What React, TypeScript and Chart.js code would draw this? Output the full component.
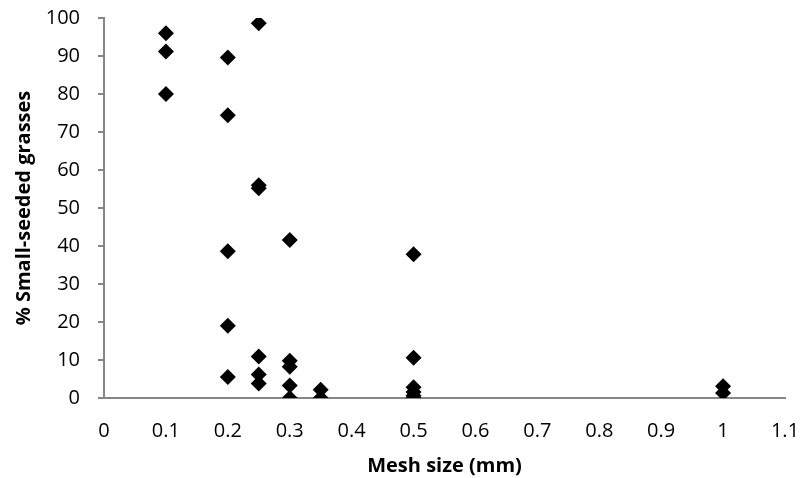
import React, { useEffect, useRef } from "react";
import { Chart, registerables } from "chart.js";

Chart.register(...registerables);

const meshSize = [
  0.1, 0.1, 0.1,
  0.2, 0.2, 0.2, 0.2, 0.2,
  0.25, 0.25, 0.25, 0.25, 0.25, 0.25,
  0.3, 0.3, 0.3, 0.3, 0.3,
  0.35, 0.35,
  0.5, 0.5, 0.5, 0.5, 0.5, 0.5,
  1.0, 1.0,
];
const smallSeeded = [
  96, 91.2, 80,
  89.6, 74.4, 38.6, 19, 5.5,
  98.6, 56, 55.2, 10.9, 6.2, 3.8,
  41.6, 9.8, 8.2, 3.3, 0,
  2.2, 0,
  37.8, 10.6, 2.8, 1.6, 0.6, 0,
  3.1, 1.3,
];
const xTicks = [0, 0.1, 0.2, 0.3, 0.4, 0.5, 0.6, 0.7, 0.8, 0.9, 1, 1.1];
const xTitle = "Mesh size (mm)";
const yTitle = "% Small-seeded grasses";

const FONT = "'Open Sans', 'Liberation Sans', sans-serif";
const AXIS_COLOR = "#868686";

export default function App() {
  const ref = useRef<HTMLCanvasElement | null>(null);
  useEffect(() => {
    if (!ref.current) return;
    const chart = new Chart(ref.current, {
      type: "scatter",
      data: {
        datasets: [
          {
            data: meshSize.map((x, i) => ({ x, y: smallSeeded[i] })),
            pointStyle: "rectRot",
            pointRadius: 8,
            pointHoverRadius: 8,
            backgroundColor: "#000",
            borderColor: "#000",
            borderWidth: 0,
          },
        ],
      },
      options: {
        responsive: false,
        animation: false,
        layout: { padding: { top: 18, right: 16, left: 0, bottom: 0 } },
        plugins: { legend: { display: false }, tooltip: { enabled: false } },
        scales: {
          x: {
            type: "linear",
            min: 0,
            max: 1.1,
            afterBuildTicks: (s: any) => {
              s.ticks = xTicks.map((v) => ({ value: v }));
            },
            afterFit: (s: any) => {
              s.height = 80;
              s.paddingLeft = 0;
              s.paddingRight = 0;
            },
            grid: { display: true, drawOnChartArea: false, drawTicks: false },
            border: { display: true, color: AXIS_COLOR, width: 2 },
            ticks: {
              padding: 21,
              color: "#000",
              font: { family: FONT, size: 20 },
              maxRotation: 0,
              autoSkip: false,
              callback: (v: any) => String(Math.round(Number(v) * 10) / 10),
            },
            title: {
              display: true,
              text: xTitle,
              color: "#000",
              font: { family: FONT, size: 20, weight: "bold" },
              padding: { top: 0, bottom: 0 },
            },
          },
          y: {
            min: 0,
            max: 100,
            afterFit: (s: any) => {
              s.width = 104;
              s.paddingTop = 0;
              s.paddingBottom = 0;
            },
            grid: {
              display: true,
              drawOnChartArea: false,
              drawTicks: true,
              tickLength: 6,
              color: AXIS_COLOR,
              lineWidth: 2,
            },
            border: { display: true, color: AXIS_COLOR, width: 2 },
            ticks: {
              stepSize: 10,
              padding: 18,
              color: "#000",
              font: { family: FONT, size: 20 },
            },
            title: {
              display: true,
              text: yTitle,
              color: "#000",
              font: { family: FONT, size: 20, weight: "bold" },
              padding: { top: 12, bottom: 0 },
            },
          },
        },
      },
    });
    return () => chart.destroy();
  }, []);
  return (
    <div style={{ position: "absolute", left: 0, top: 0, width: 801, height: 478, background: "#fff" }}>
      <canvas ref={ref} width={801} height={478} />
    </div>
  );
}
